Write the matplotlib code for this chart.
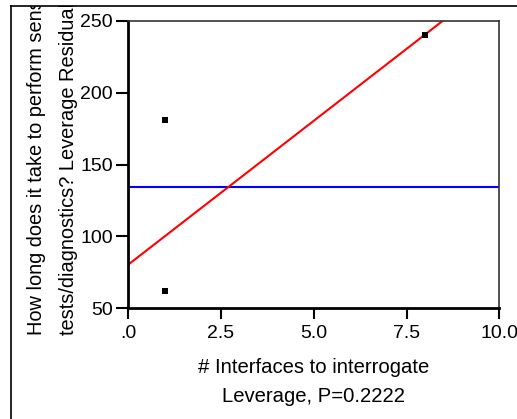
import matplotlib
matplotlib.use('Agg')
import matplotlib.pyplot as plt
import numpy as np
from matplotlib.lines import Line2D
from matplotlib.transforms import Bbox

# leverage plot data
x_pts = [1, 1, 8]
y_pts = [62, 181, 240]
mean_y = 134.6
fit_intercept = 80.4
fit_slope = 20.0

x_ticks = [0, 2.5, 5.0, 7.5, 10.0]
x_tick_labels = ['.0', '2.5', '5.0', '7.5', '10.0']
y_ticks = [50, 100, 150, 200, 250]

plt.rcParams['font.family'] = ['Liberation Sans', 'DejaVu Sans']

W, H = 517, 419
fig = plt.figure(figsize=(W / 100, H / 100), dpi=100)
ax = fig.add_axes([128.3 / W, 1 - 308.3 / H, (499.3 - 128.3) / W, (308.3 - 20.7) / H])

ax.axhline(mean_y, color='#0000ff', lw=1.5, zorder=2)
xs = np.array([0, 10])
ax.plot(xs, fit_intercept + fit_slope * xs, color='#ff0000', lw=1.5, zorder=2)
ax.scatter(x_pts, y_pts, marker='s', s=14, c='black', linewidths=0, zorder=3)

ax.set_xlim(0, 10)
ax.set_ylim(50, 250)
ax.set_xticks(x_ticks)
ax.set_xticklabels(x_tick_labels)
ax.set_yticks(y_ticks)
ax.tick_params(axis='both', labelsize=14, width=1.5, color='black')
ax.tick_params(axis='x', length=8, pad=4)
ax.tick_params(axis='y', length=9, pad=2)

for s in ['left', 'bottom']:
    ax.spines[s].set_linewidth(2)
    ax.spines[s].set_color('black')
for s in ['top', 'right']:
    ax.spines[s].set_linewidth(1.2)
    ax.spines[s].set_color('#333333')

# x axis title, two lines
xc = (128.3 + 499.3) / 2 / W
fig.text(xc, 1 - 373 / H, '# Interfaces to interrogate', ha='center', va='baseline', fontsize=14.6)
fig.text(xc, 1 - 402 / H, 'Leverage, P=0.2222', ha='center', va='baseline', fontsize=14.6)

# y label, clipped at the outer frame like the original
clip = Bbox.from_extents(0, 0, W, H - 6)
t1 = fig.text(42 / W, 1 - 335 / H, 'How long does it take to perform sensitive',
              rotation=90, rotation_mode='anchor', ha='left', va='baseline', fontsize=14.4)
t2 = fig.text(74 / W, 1 - 335 / H, 'tests/diagnostics? Leverage Residuals',
              rotation=90, rotation_mode='anchor', ha='left', va='baseline', fontsize=14.4)
for t in (t1, t2):
    t.set_clip_box(clip)
    t.set_clip_on(True)

# outer frame lines
fig.add_artist(Line2D([11 / W, 11 / W], [0, 1 - 6 / H], color='black', lw=1.2))
fig.add_artist(Line2D([11 / W, 1], [1 - 6 / H, 1 - 6 / H], color='black', lw=1.2))

plt.savefig('out.png', dpi=100)
